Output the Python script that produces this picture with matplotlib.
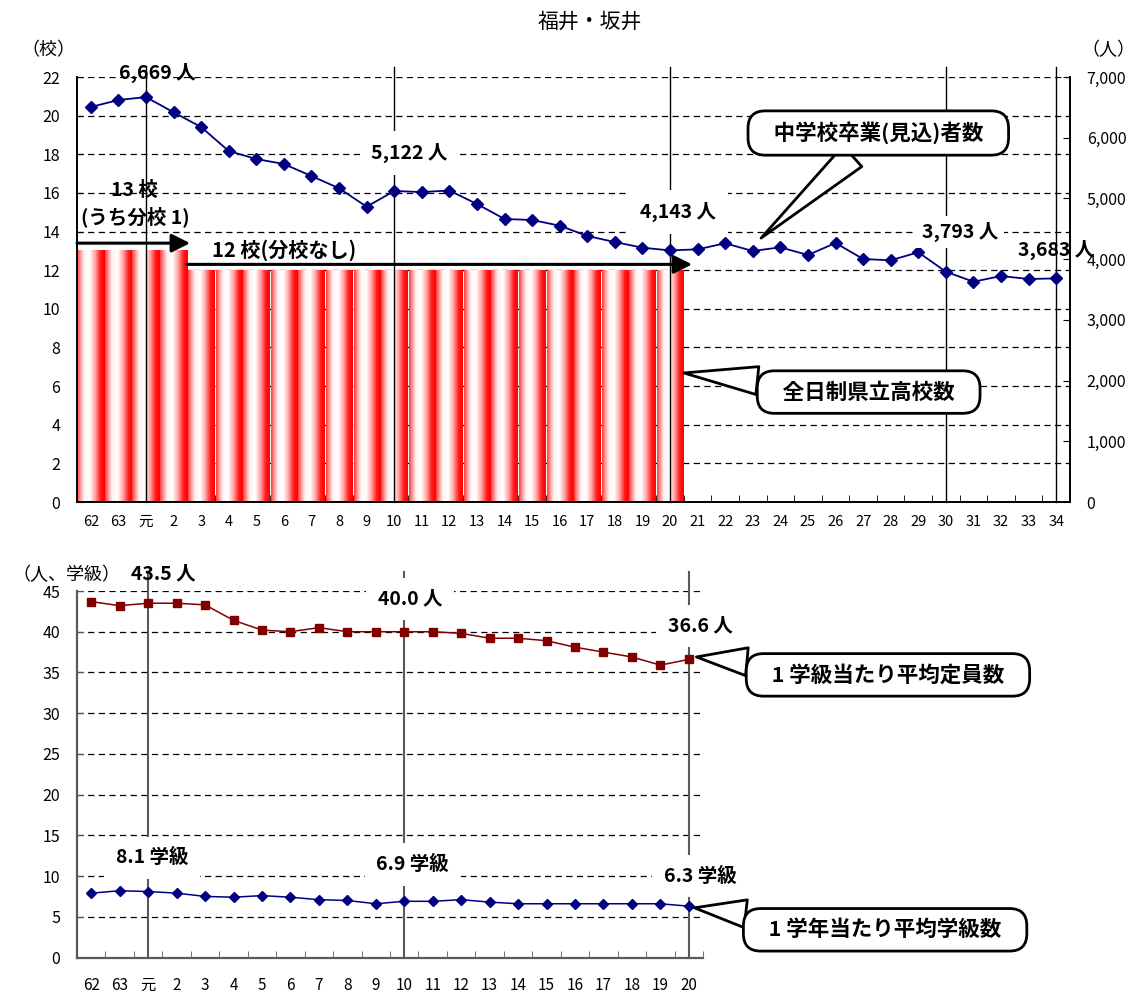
import numpy as np
import matplotlib
matplotlib.use("Agg")
import matplotlib.pyplot as plt
from matplotlib.ticker import FuncFormatter

plt.rcParams['font.family'] = ['Noto Sans CJK JP', 'DejaVu Sans']

# 年度ラベル（昭和62 ～ 平成34）
years = ['62', '63', '元'] + [str(i) for i in range(2, 35)]
years_low = years[:22]  # 62 ～ 20

# 全日制県立高校数（62 ～ 20）
schools = [13, 13, 13, 13] + [12] * 18

# 中学校卒業（見込）者数
grads = [6506, 6621, 6669, 6419, 6176, 5781, 5649, 5567, 5369, 5167, 4864,
         5122, 5105, 5130, 4908, 4661, 4645, 4551, 4381, 4282, 4189, 4143,
         4162, 4261, 4134, 4195, 4068, 4266, 4002, 3981, 4113, 3793, 3628,
         3722, 3673, 3683]

# 1学級当たり平均定員数 / 1学年当たり平均学級数
capacity = [43.7, 43.2, 43.5, 43.5, 43.3, 41.4, 40.2, 40.0, 40.5, 40.0, 40.0,
            40.0, 40.0, 39.8, 39.2, 39.2, 38.9, 38.1, 37.5, 36.9, 35.9, 36.6]
classes = [7.9, 8.2, 8.1, 7.9, 7.5, 7.4, 7.6, 7.4, 7.1, 7.0, 6.6,
           6.9, 6.9, 7.1, 6.8, 6.6, 6.6, 6.6, 6.6, 6.6, 6.6, 6.3]

W, H = 1145, 992
fig = plt.figure(figsize=(W / 100, H / 100), dpi=100)

def px_axes(l, t, r, b):
    return fig.add_axes([l / W, 1 - b / H, (r - l) / W, (b - t) / H])

dash = (0, (5, 3.5))
num_font = ['Liberation Sans Narrow', 'Noto Sans CJK JP']

def white_box(pad=0.6):
    return dict(boxstyle=f'square,pad={pad}', fc='white', ec='none')

# ---------------- 上段 ----------------
ax1 = px_axes(77, 77, 1070, 502)
ax1.set_xlim(-0.5, len(years) - 0.5)
ax1.set_ylim(0, 22)
ax1.set_yticks(range(0, 23, 2))
ax1.set_axisbelow(True)
ax1.yaxis.grid(True, color='black', lw=0.9, linestyle=dash)
ax1.set_xticks(range(len(years)))
ax1.set_xticklabels(years)
ax1.set_xticks(np.arange(-0.5, len(years)), minor=True)
ax1.tick_params(axis='x', which='major', length=0, pad=9, labelsize=10.5)
ax1.tick_params(axis='x', which='minor', length=5, direction='in')
ax1.tick_params(axis='y', length=4, direction='in', pad=12, labelsize=11.5)
ax1.spines['top'].set_visible(False)
for s in ('left', 'bottom', 'right'):
    ax1.spines[s].set_linewidth(1.4)

# グラデーションの棒
prof_t = [0, 0.1, 0.25, 0.45, 0.65, 0.85, 1.0]
prof_v = [0.75, 0.45, 0.05, 0.0, 0.35, 0.9, 1.0]
tt = np.linspace(0, 1, 64)
vv = np.interp(tt, prof_t, prof_v)
grad = np.ones((1, 64, 3))
grad[0, :, 1] = 1 - vv
grad[0, :, 2] = 1 - vv
for i, h in enumerate(schools):
    w = 1.0 if h == 13 else 0.95
    ax1.imshow(grad, extent=(i - w / 2, i + w / 2, 0, h), aspect='auto',
               interpolation='bilinear', zorder=1)
ax1.set_xlim(-0.5, len(years) - 0.5)
ax1.set_ylim(0, 22)

for yr in ['元', '10', '20', '30', '34']:
    xi = years.index(yr)
    ax1.plot([xi, xi], [0, 22.5], color='black', lw=1, zorder=2, clip_on=False)

ax2 = ax1.twinx()
ax2.set_ylim(0, 7000)
ax2.set_yticks(range(0, 7001, 1000))
ax2.yaxis.set_major_formatter(FuncFormatter(lambda v, p: f'{int(v):,}'))
ax2.tick_params(axis='y', length=5, direction='in', pad=12, labelsize=11.5)
for s in ax2.spines.values():
    s.set_visible(False)
ax2.plot(range(len(years)), grads, color='#000080', lw=1.3, marker='D',
         markersize=6, zorder=3)

T1 = ax1.transData

def top_label(i, x, y, pad=0.6, box=True):
    ax2.text(x, y, f'{grads[i]:,} 人', transform=T1, ha='center', va='center',
             fontsize=14, fontweight='bold', family=num_font,
             bbox=white_box(pad) if box else None, zorder=5)

top_label(2, 2.4, 22.2, box=False)
top_label(11, 11.56, 18.06)
top_label(21, 21.3, 15.0)
top_label(31, 31.5, 13.97, pad=0.3)
top_label(35, 35.0, 13.05, box=False)

ax2.text(1.6, 16.15, f'{schools[0]} 校', transform=T1, ha='center', va='center',
         fontsize=14, fontweight='bold', family=num_font, zorder=5)
ax2.text(1.6, 14.75, '(うち分校 1)', transform=T1, ha='center', va='center',
         fontsize=14, fontweight='bold', zorder=5)
ax2.text(7.0, 13.04, f'{schools[-1]} 校(分校なし)', transform=T1, ha='center',
         va='center', fontsize=14.5, fontweight='bold', zorder=5)
arrow = dict(arrowstyle='-|>', lw=2.2, color='black', mutation_scale=28,
             shrinkA=0, shrinkB=0)
ax2.annotate('', xy=(3.6, 13.4), xytext=(-0.5, 13.4), xycoords=T1,
             textcoords=T1, arrowprops=arrow, annotation_clip=False)
ax2.annotate('', xy=(21.8, 12.3), xytext=(3.48, 12.3), xycoords=T1,
             textcoords=T1, arrowprops=arrow, annotation_clip=False)

bubble = dict(boxstyle='round,pad=0.5,rounding_size=0.8', fc='white',
              ec='black', lw=2)
wedge = dict(arrowstyle='wedge,tail_width=1.3,shrink_factor=0.5', fc='white',
             ec='black', lw=2, shrinkA=0, shrinkB=0)

def callout(ax, text, tip, pos, trans):
    ax.annotate('   ' + text + '   ', xy=tip, xycoords=trans, xytext=pos,
                textcoords=trans, ha='center', va='center', fontsize=15.5,
                fontweight='bold', bbox=bubble, arrowprops=wedge, zorder=6,
                annotation_clip=False)

callout(ax2, '中学校卒業(見込)者数', (24.3, 13.66), (28.55, 19.1), T1)
callout(ax2, '全日制県立高校数', (21.5, 6.68), (28.2, 5.69), T1)

# ---------------- 下段 ----------------
ax3 = px_axes(77, 591, 703, 957.5)
ax3.set_xlim(-0.5, len(years_low) - 0.5)
ax3.set_ylim(0, 45)
ax3.set_yticks(range(0, 46, 5))
ax3.set_axisbelow(True)
ax3.yaxis.grid(True, color='black', lw=0.9, linestyle=dash)
ax3.set_xticks(range(len(years_low)))
ax3.set_xticklabels(years_low)
ax3.set_xticks(np.arange(-0.5, len(years_low)), minor=True)
ax3.tick_params(axis='x', which='major', length=0, pad=14, labelsize=11)
ax3.tick_params(axis='x', which='minor', length=5, direction='in',
                color='#595959')
ax3.tick_params(axis='y', length=4, direction='in', pad=12, labelsize=11.5,
                color='#595959')
ax3.spines['top'].set_visible(False)
ax3.spines['right'].set_visible(False)
for s in ('left', 'bottom'):
    ax3.spines[s].set_linewidth(1.6)
    ax3.spines[s].set_color('#595959')

for yr in ['元', '10', '20']:
    xi = years_low.index(yr)
    ax3.plot([xi, xi], [0, 47.3], color='#595959', lw=1.5, zorder=2,
             clip_on=False)

xs = range(len(years_low))
ax3.plot(xs, capacity, color='#800000', lw=1.1, marker='s', markersize=6,
         zorder=3)
ax3.plot(xs, classes, color='#000080', lw=1.1, marker='D', markersize=5.5,
         zorder=3)

def low_label(text, x, y, box=True):
    ax3.text(x, y, text, ha='center', va='center', fontsize=14,
             fontweight='bold', family=num_font,
             bbox=white_box() if box else None, zorder=5, clip_on=False)

low_label(f'{capacity[2]} 人', 2.54, 47.1, box=False)
low_label(f'{capacity[11]} 人', 11.2, 44.0)
low_label(f'{capacity[21]} 人', 21.4, 40.7)
low_label(f'{classes[2]} 学級', 2.15, 12.25)
low_label(f'{classes[11]} 学級', 11.3, 11.4)
low_label(f'{classes[21]} 学級', 21.4, 10.0)

T3 = ax3.transData
callout(ax3, '1 学級当たり平均定員数', (21.27, 36.9), (28.0, 34.7), T3)
callout(ax3, '1 学年当たり平均学級数', (21.2, 6.1), (27.9, 3.4), T3)

# 見出し・単位
fig.text(590 / W, 1 - 22 / H, '福井・坂井', ha='center', va='center', fontsize=15)
fig.text(48 / W, 1 - 50 / H, '（校）', ha='center', va='center', fontsize=13)
fig.text(1108 / W, 1 - 50 / H, '（人）', ha='center', va='center', fontsize=13)
fig.text(66 / W, 1 - 575 / H, '（人、学級）', ha='center', va='center', fontsize=13)

fig.savefig('out.png', dpi=100)
